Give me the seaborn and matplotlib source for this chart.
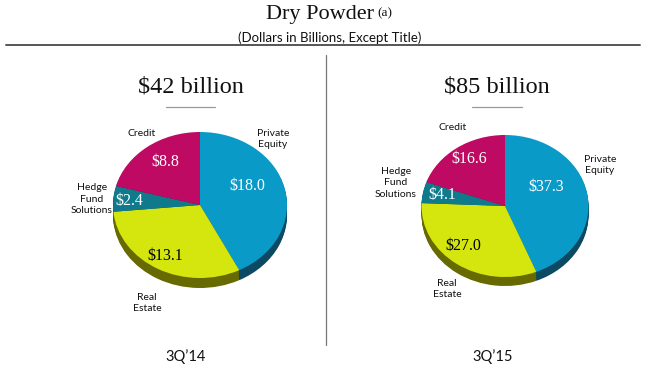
import matplotlib
matplotlib.use("Agg")
import matplotlib.pyplot as plt
import seaborn as sns

W, H = 650, 374

categories = ["Private\nEquity", "Real\nEstate", "Hedge\nFund\nSolutions", "Credit"]
values_14 = [18.0, 13.1, 2.4, 8.8]
values_15 = [37.3, 27.0, 4.1, 16.6]
totals = ["$42 billion", "$85 billion"]
periods = ["3Q\u201914", "3Q\u201915"]

top_colors = sns.color_palette(["#0A9AC8", "#D4E60E", "#0F7A8C", "#BE0A62"])
side_colors = sns.color_palette(["#0B4A62", "#666A00", "#0A4A55", "#6A0A3A"])
value_colors = ["white", "black", "white", "white"]

sns.set_theme(style="white")
plt.rcParams["font.family"] = ["Lato", "DejaVu Sans"]
SERIF = ["Liberation Serif", "DejaVu Serif"]

fig = plt.figure(figsize=(W / 100, H / 100), dpi=100, facecolor="white")


def put(x, y, s, **kw):
    # positions in picture pixels, y down
    fig.text(x / W, 1 - y / H, s, ha=kw.pop("ha", "center"), va="center", **kw)


def line(x0, y0, x1, y1, color, lw):
    fig.add_artist(plt.Line2D([x0 / W, x1 / W], [1 - y0 / H, 1 - y1 / H], color=color, lw=lw))


def draw_pie(values, cx, cy, rx, ry, depth):
    pad = 1.05
    bottom = cy + ry * pad + depth
    top = cy - ry * pad
    ax = fig.add_axes([(cx - rx * pad) / W, 1 - bottom / H, 2 * rx * pad / W, (bottom - top) / H])
    for d in range(depth, 0, -1):
        ax.pie(values, colors=side_colors, startangle=90, counterclock=False,
               center=(0, -d / ry), wedgeprops={"linewidth": 0})
    ax.pie(values, colors=top_colors, startangle=90, counterclock=False,
           wedgeprops={"linewidth": 0})
    ax.set_aspect("auto")
    ax.set_xlim(-pad, pad)
    ax.set_ylim(-pad - depth / ry, pad)


draw_pie(values_14, 200, 205, 87, 73, 10)
draw_pie(values_15, 505, 206, 83.5, 71, 9)

# header
put(320, 15, "Dry Powder", family=SERIF, fontsize=16, color="#111111")
put(385, 13, "(a)", family=SERIF, fontsize=9.5, color="#111111")
put(330, 38, "(Dollars in Billions, Except Title)", fontsize=9.5, color="#111111")
line(6, 44.5, 640, 44.5, "#555555", 1.4)
line(325.5, 55, 325.5, 345, "#777777", 0.9)

# panel headings
for x, total, period, px, rule in zip((191, 497), totals, periods, (186, 493), ((166, 215), (472, 522))):
    put(x, 87, total, family=SERIF, fontsize=17.5, color="#111111")
    line(rule[0], 107, rule[1], 107, "#999999", 0.9)
    put(px, 357, period, fontsize=10.5, color="#111111")

label_pos_14 = [(273, 139), (147, 303), (92, 199), (142, 133)]
label_pos_15 = [(600, 165), (447, 289), (396, 183), (453, 128)]
value_pos_14 = [(247, 186), (165, 256), (129, 201), (165, 162)]
value_pos_15 = [(546, 187), (463, 246), (442, 195), (469, 159)]

for vals, lpos, vpos in ((values_14, label_pos_14, value_pos_14), (values_15, label_pos_15, value_pos_15)):
    for name, v, lp, vp, c in zip(categories, vals, lpos, vpos, value_colors):
        put(lp[0], lp[1], name, fontsize=7.5, color="#111111", linespacing=1.4)
        put(vp[0], vp[1], f"${v:.1f}", family=SERIF, fontsize=11.5, color=c)

fig.savefig("out.png", dpi=100)
